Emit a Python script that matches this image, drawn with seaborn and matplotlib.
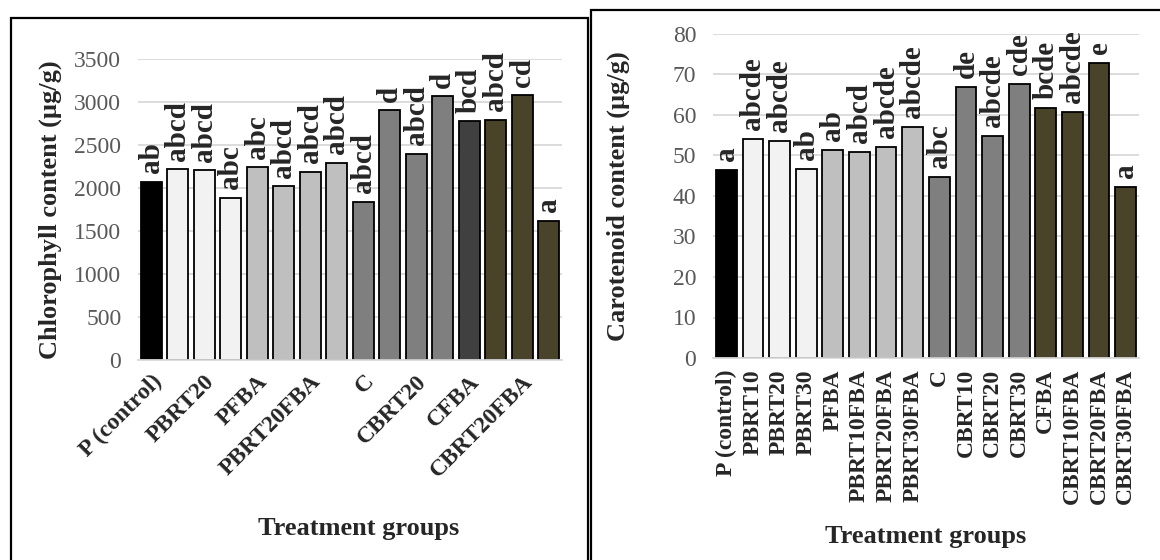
import numpy as np
import pandas as pd
import matplotlib
matplotlib.use('Agg')
import matplotlib.pyplot as plt
import seaborn as sns
from matplotlib.patches import Rectangle

# treatment groups (same order in both panels)
groups = ['P (control)', 'PBRT10', 'PBRT20', 'PBRT30', 'PFBA', 'PBRT10FBA',
          'PBRT20FBA', 'PBRT30FBA', 'C', 'CBRT10', 'CBRT20', 'CBRT30',
          'CFBA', 'CBRT10FBA', 'CBRT20FBA', 'CBRT30FBA']

# chlorophyll content (ug/g) and significance letters
chlorophyll = [2075, 2220, 2210, 1885, 2245, 2020, 2190, 2295,
               1840, 2905, 2400, 3065, 2775, 2795, 3080, 1620]
chl_letters = ['ab', 'abcd', 'abcd', 'abc', 'abc', 'abcd', 'abcd', 'abcd',
               'abcd', 'd', 'abcd', 'd', 'bcd', 'abcd', 'cd', 'a']

# carotenoid content (ug/g) and significance letters
carotenoid = [46.5, 54.0, 53.5, 46.7, 51.4, 50.9, 52.2, 57.1,
              44.6, 66.8, 54.8, 67.6, 61.7, 60.8, 72.9, 42.3]
car_letters = ['a', 'abcde', 'abcde', 'ab', 'ab', 'abcd', 'abcde', 'abcde',
               'abc', 'de', 'abcde', 'cde', 'bcde', 'abcde', 'e', 'a']

# bar fills
chl_colors = ['#000000'] + ['#f2f2f2'] * 3 + ['#bfbfbf'] * 4 + ['#7f7f7f'] * 4 + ['#404040'] + ['#494429'] * 3
car_colors = ['#000000'] + ['#f2f2f2'] * 3 + ['#bfbfbf'] * 4 + ['#7f7f7f'] * 4 + ['#494429'] * 4

sns.set_theme(style='white')
plt.rcParams['font.family'] = ['Liberation Serif', 'DejaVu Serif']

W, H = 1160, 560
fig = plt.figure(figsize=(11.6, 5.6), dpi=100)


def px_box(x0, y0, x1, y1):
    return [x0 / W, 1 - y1 / H, (x1 - x0) / W, (y1 - y0) / H]


# panel frames
for x0, y0, x1 in [(11, 18, 588), (591, 10, 1165)]:
    fig.patches.append(Rectangle((x0 / W, -0.05), (x1 - x0) / W, 1.05 - y0 / H,
                                 transform=fig.transFigure, fill=False,
                                 edgecolor='black', linewidth=1.6))


def draw_panel(ax, values, letters, colors, ymax, ystep, ylabel):
    df = pd.DataFrame({'group': groups, 'value': values})
    sns.barplot(data=df, x='group', y='value', hue='group',
                palette=dict(zip(groups, colors)), legend=False, ax=ax,
                width=0.78, saturation=1, edgecolor='black', linewidth=1.3)
    ax.set_ylim(0, ymax)
    ax.set_xlim(-0.5, len(groups) - 0.5)
    ax.set_yticks(np.arange(0, ymax + 1, ystep))
    ax.yaxis.grid(True, color='#d9d9d9', linewidth=1.3)
    ax.set_axisbelow(True)
    for s in ['top', 'right', 'left']:
        ax.spines[s].set_visible(False)
    ax.spines['bottom'].set_color('#d9d9d9')
    ax.spines['bottom'].set_linewidth(1.3)
    ax.tick_params(axis='y', length=0, labelsize=17, labelcolor='#595959', pad=12)
    ax.tick_params(axis='x', length=0, pad=8)
    # significance letters above bars
    for i, (v, lab) in enumerate(zip(values, letters)):
        ax.text(i, v + ymax * 0.028, lab, rotation=90, ha='center', va='bottom',
                fontsize=21, fontweight='bold', clip_on=False)
    ax.set_ylabel(ylabel, fontsize=19, fontweight='bold')
    ax.set_xlabel('Treatment groups', fontsize=19, fontweight='bold')


ax1 = fig.add_axes(px_box(138, 59, 562, 360))
draw_panel(ax1, chlorophyll, chl_letters, chl_colors, 3500, 500,
           'Chlorophyll content (µg/g)')
ax1.set_xticks(range(0, len(groups), 2))
ax1.set_xticklabels(groups[::2], rotation=45, ha='right', rotation_mode='anchor',
                    fontsize=17, fontweight='bold')
ax1.yaxis.set_label_coords(-0.18, 0.5)
ax1.xaxis.set_label_coords(0.52, -0.52)

ax2 = fig.add_axes(px_box(713, 34, 1139, 358))
draw_panel(ax2, carotenoid, car_letters, car_colors, 80, 10,
           'Carotenoid content (µg/g)')
ax2.set_xticks(range(len(groups)))
ax2.set_xticklabels(groups, rotation=90, fontsize=17, fontweight='bold')
ax2.yaxis.set_label_coords(-0.195, 0.5)
ax2.xaxis.set_label_coords(0.5, -0.515)

fig.savefig('out.png', dpi=100)
